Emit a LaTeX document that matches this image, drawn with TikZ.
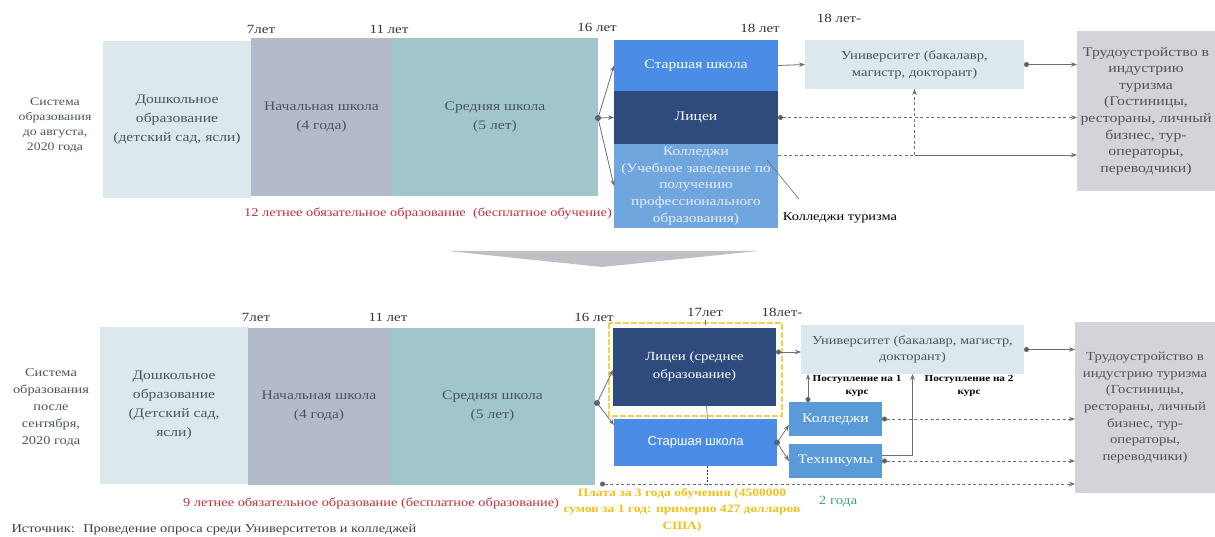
\documentclass[tikz,border=0pt]{standalone}
\usepackage{fontspec}
\setmainfont{Liberation Serif}[FakeStretch=1.2]
\setsansfont{Liberation Sans}
\usetikzlibrary{positioning,arrows.meta}

\definecolor{preschool}{HTML}{DCE8EC}
\definecolor{primary}{HTML}{B3BAC9}
\definecolor{middle}{HTML}{A0C6CB}
\definecolor{senior}{HTML}{4A8CE6}
\definecolor{lyceum}{HTML}{2F4A7D}
\definecolor{college}{HTML}{6FA6DE}
\definecolor{smallbox}{HTML}{5A9AD8}
\definecolor{uni}{HTML}{DCE8EE}
\definecolor{job}{HTML}{D5D3D9}
\definecolor{boxtext}{HTML}{4A555C}
\definecolor{conngray}{HTML}{6E6E74}
\definecolor{dotcol}{HTML}{55606C}
\definecolor{oblig}{HTML}{C0303A}
\definecolor{fee}{HTML}{EEC21C}
\definecolor{frame}{HTML}{F2D14A}
\definecolor{twoyr}{HTML}{3DA58A}
\definecolor{chev}{HTML}{C2BEC6}

\begin{document}
\begin{tikzpicture}[x=1pt,y=-1pt,
    box/.style={rectangle, outer sep=0pt, inner sep=1pt, align=center,
      text=boxtext, font=\fontsize{13}{19}\selectfont},
    age/.style={font=\fontsize{12.5}{14}\selectfont, text=black!80},
    conn/.style={draw=conngray, line width=0.8pt, -{Stealth[length=6pt,width=4.5pt]}},
    dotconn/.style={conn, {Circle[length=5pt,fill=dotcol]}-{Stealth[length=6pt,width=4.5pt]}},
    dashconn/.style={dotconn, dash pattern=on 3pt off 2.5pt},
    small/.style={font=\fontsize{9.3}{12.5}\selectfont\bfseries, align=center}]

            \fill[white] (0,0) rectangle (1215,537);
            \useasboundingbox (0,0) rectangle (1215,537);

            %Nodes (before)
            \node[align=center, text=boxtext, font=\fontsize{11.5}{15}\selectfont] at (55,125) (sys1) {Система\\образования\\до августа,\\2020 года};
            \node[box, fill=preschool, minimum width=148pt, minimum height=157pt] at (177,120) (pre1) {Дошкольное\\образование\\(детский сад, ясли)};
            \node[box, fill=primary, minimum width=141pt, minimum height=158pt] at (321.5,117) (prim1) {Начальная школа\\(4 года)};
            \node[box, fill=middle, minimum width=206pt, minimum height=158pt] at (495,117) (mid1) {Средняя школа\\(5 лет)};
            \node[box, fill=senior, text=white, minimum width=164pt, minimum height=51pt] at (696,65.5) (sen1) {Старшая школа};
            \node[box, fill=lyceum, text=white, minimum width=164pt, minimum height=53pt] at (696,117.5) (lyc1) {Лицеи};
            \node[box, fill=college, text=white!92!blue, minimum width=164pt, minimum height=84pt, font=\fontsize{12.8}{16.8}\selectfont] at (696,186) (col1) {Колледжи\\(Учебное заведение по\\получению\\профессионального\\образования)};
            \node[box, fill=uni, minimum width=219pt, minimum height=49pt, font=\fontsize{12.2}{17}\selectfont] at (914.5,64.5) (uni1) {Университет (бакалавр,\\магистр, докторант)};
            \node[box, fill=job, minimum width=138pt, minimum height=160pt, font=\fontsize{13.2}{16.6}\selectfont] at (1146,111) (job1) {Трудоустройство в\\индустрию\\туризма\\(Гостиницы,\\рестораны, личный\\бизнес, тур-\\операторы,\\переводчики)};

            \node[age] at (261,29) (lab7a) {7лет};
            \node[age] at (389,29) (lab11a) {11 лет};
            \node[age] at (597,27) (lab16a) {16 лет};
            \node[age] at (760,28) (lab18a) {18 лет};
            \node[age] at (839,18) (lab18b) {18 лет-};

            \node[text=oblig, font=\fontsize{12}{15}\selectfont] at (428,214) (oblig1) {12 летнее обязательное образование \ (бесплатное обучение)};
            \node[font=\fontsize{12}{15}\selectfont] at (840,218) (tour) {Колледжи туризма};

            % wide arrow between the two systems
            \fill[chev] (448,251) -- (758,251) -- (602,267) -- cycle;

            %Nodes (after)
            \node[align=center, text=boxtext, font=\fontsize{12}{17}\selectfont] at (51,408) (sys2) {Система\\образования\\после\\сентября,\\2020 года};
            \node[box, fill=preschool, minimum width=148pt, minimum height=157pt] at (174,405.5) (pre2) {Дошкольное\\образование\\(Детский сад,\\ясли)};
            \node[box, fill=primary, minimum width=142pt, minimum height=157pt] at (319,406.5) (prim2) {Начальная школа\\(4 года)};
            \node[box, fill=middle, minimum width=205pt, minimum height=157pt] at (492.5,406.5) (mid2) {Средняя школа\\(5 лет)};
            \node[box, fill=lyceum, text=white, minimum width=163pt, minimum height=78pt, font=\fontsize{12.4}{18}\selectfont] at (694.5,367) (lyc2) {Лицеи (среднее\\образование)};
            \node[box, fill=senior, text=white, minimum width=163pt, minimum height=47pt, font=\fontsize{13}{15}\sffamily] at (695.5,442.5) (sen2) {Старшая школа};
            \node[box, fill=uni, minimum width=223pt, minimum height=49pt, font=\fontsize{12}{16}\selectfont] at (912.5,349.5) (uni2) {Университет (бакалавр, магистр,\\докторант)};
            \node[box, fill=smallbox, text=white, minimum width=93pt, minimum height=34pt] at (835.5,419) (col2) {Колледжи};
            \node[box, fill=smallbox, text=white, minimum width=93pt, minimum height=34pt] at (835.5,461) (tech2) {Техникумы};
            \node[box, fill=job, minimum width=140pt, minimum height=171pt, font=\fontsize{12.3}{16.6}\selectfont] at (1145,407.5) (job2) {Трудоустройство в\\индустрию туризма\\(Гостиницы,\\рестораны, личный\\бизнес, тур-\\операторы,\\переводчики)};

            \node[age] at (256,317) (lab7b) {7лет};
            \node[age] at (388,317) (lab11b) {11 лет};
            \node[age] at (594,317) (lab16b) {16 лет};
            \node[age] at (705,312) (lab17b) {17лет};
            \node[age] at (782,312) (lab18c) {18лет-};

            \node[small] at (857,386) (adm1) {Поступление на 1\\курс};
            \node[small] at (969,386) (adm2) {Поступление на 2\\курс};

            \node[text=oblig, font=\fontsize{12}{15}\selectfont] at (371,503) (oblig2) {9 летнее обязательное образование (бесплатное образование)};
            \node[text=fee, align=center, font=\fontsize{11.3}{16.5}\selectfont\bfseries] at (682,510) (fee) {Плата за 3 года обучения (4500000\\сумов за 1 год: примерно 427 долларов\\США)};
            \node[text=twoyr, font=\fontsize{12.5}{15}\selectfont] at (838,502) (two) {2 года};
            \node[anchor=west, text=black!75, font=\fontsize{12}{13}\selectfont] at (8,530) (src) {Источник: \ Проведение опроса среди Университетов и колледжей};

            % yellow frame round the lyceum
            \draw[frame, line width=2.5pt, dash pattern=on 6pt off 2pt] (609,323) rectangle (782,416);

            %Lines (before)
            \coordinate (split1) at (598,118);
            \fill[dotcol] (split1) circle (3pt);
            \draw[conn] (split1) -- (sen1.west);
            \draw[conn] (split1) -- (lyc1.west);
            \draw[conn] (split1) -- (col1.west);
            \draw[conn] (sen1.east) -- (uni1.west);
            \draw[dotconn] (uni1.east) -- (uni1.east -| job1.west);
            \draw[dashconn] (lyc1.east) -- (lyc1.east -| job1.west);
            \coordinate (c1out) at ([yshift=-11pt]col1.north east);
            \coordinate (jn1) at (uni1.south |- c1out);
            \draw[dashconn, -] (c1out) -- (jn1);
            \draw[conn] (jn1) -- (jn1 -| job1.west);
            \draw[conn, dash pattern=on 3pt off 2.5pt] (jn1) -- (uni1.south);
            \coordinate (callin) at (767,160);
            \coordinate (tourtip) at (799,199);
            \draw[conngray, line width=0.6pt] (callin) -- (tourtip);

            %Lines (after)
            \coordinate (split2) at (597,403);
            \fill[dotcol] (split2) circle (3pt);
            \draw[conn] (split2) -- ([yshift=-3pt]lyc2.west);
            \draw[conn] (split2) -- ([yshift=-6pt]sen2.north west);
            \coordinate (lycout) at ([yshift=-24pt]lyc2.north east);
            \draw[dotconn] (lycout) -- (lycout -| uni2.west);
            \draw[dotconn] (uni2.east) -- (uni2.east -| job2.west);
            \fill[dotcol] (sen2.east) circle (3pt);
            \draw[conn] (sen2.east) -- ([yshift=-6pt]col2.west);
            \draw[conn] (sen2.east) -- (tech2.west);
            \coordinate (c2top) at ([xshift=19pt]col2.north west);
            \draw[dotconn] (c2top) -- (c2top |- uni2.south);
            \draw[conn] ([yshift=6pt]tech2.east) -| (uni2.south);
            \draw[dashconn] (col2.east) -- (col2.east -| job2.west);
            \draw[dashconn] (tech2.east) -- (tech2.east -| job2.west);
            \coordinate (free2) at (600,484);
            \draw[dashconn] (free2) -- (free2 -| job2.west);
            \draw[black!80, line width=0.8pt, dash pattern=on 2pt off 1.5pt] ([xshift=12pt]sen2.south) -- ([xshift=12pt]sen2.south |- free2);
            \draw[conngray, line width=0.6pt] ([xshift=12pt]lyc2.south) -- ([xshift=12pt]sen2.north);
            \draw[conngray, line width=0.6pt] (lab17b.south) -- ++(0,5);
        \end{tikzpicture}
\end{document}
